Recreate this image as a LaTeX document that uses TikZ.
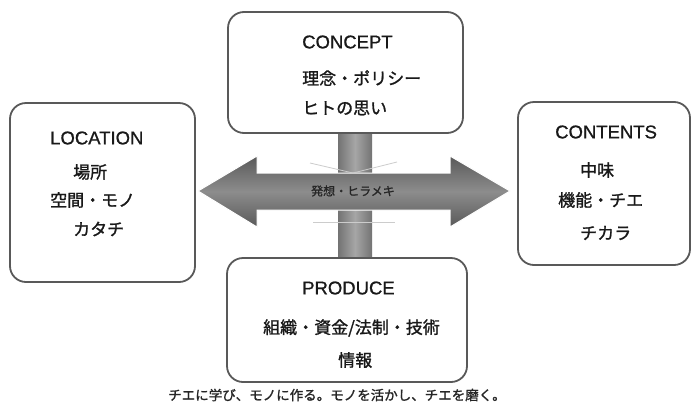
\documentclass[tikz,border=0pt]{standalone}
\usepackage{fontspec}
\setmainfont{Liberation Sans}
\newfontfamily\jp[FakeBold=1.2]{Noto Sans CJK JP}
\newfontfamily\lt[FakeBold=0.8]{Liberation Sans}
\begin{document}
\begin{tikzpicture}[x=1pt,y=-1pt,
 box/.style={draw=black!65, line width=1.8pt, rounded corners=16pt, fill=white},
 lat/.style={anchor=west, font=\lt\fontsize{18.5}{20}\selectfont, text=black!90, inner sep=0pt},
 jpt/.style={anchor=west, font=\jp\fontsize{17}{20}\selectfont, text=black!90, inner sep=0pt},
 bar/.style={left color=black!55, right color=black!55, middle color=black!35},
]
\useasboundingbox (0,0) rectangle (692,410);
\fill[white] (0,0) rectangle (692,410);
% vertical bars
\fill[bar] (338,128) rectangle (372,176);
\fill[bar] (338,208) rectangle (372,262);
% double arrow
\draw[white, line width=1pt, top color=black!65, bottom color=black!65, middle color=black!45]
 (198,191) -- (257,156) -- (257,173) -- (450,173) -- (450,156) -- (510,191)
 -- (450,227) -- (450,210) -- (257,210) -- (257,227) -- cycle;
\draw[black!20, line width=0.8pt] (310,163) -- (353,173) -- (397,162);
\draw[black!20, line width=0.8pt] (313,222) -- (395,222);
\node[font=\jp\fontsize{12}{14}\selectfont, text=black!85, inner sep=0pt] (center) at (353,191) {発想・ヒラメキ};
% boxes
\node[box, minimum width=235pt, minimum height=121pt] (concept) at (345.5,72.5) {};
\node[box, minimum width=185pt, minimum height=179pt] (location) at (102.5,192.5) {};
\node[box, minimum width=172pt, minimum height=163pt] (contents) at (604,183.5) {};
\node[box, minimum width=240pt, minimum height=124pt] (produce) at (347,320) {};
% texts
\node[lat] (t1) at (302,42) {CONCEPT};
\node[jpt] (t2) at (302,78) {理念・ポリシー};
\node[jpt] (t3) at (302,108) {ヒトの思い};
\node[lat] (l1) at (50,138) {LOCATION};
\node[jpt] (l2) at (73,172) {場所};
\node[jpt] (l3) at (50,200) {空間・モノ};
\node[jpt] (l4) at (73,229) {カタチ};
\node[lat] (c1) at (555,132) {CONTENTS};
\node[jpt] (c2) at (580,170) {中味};
\node[jpt] (c3) at (558,200) {機能・チエ};
\node[jpt] (c4) at (580,233) {チカラ};
\node[lat] (p1) at (302,288) {PRODUCE};
\node[jpt] (p2) at (263,328) {組織・資金/法制・技術};
\node[jpt] (p3) at (338,360) {情報};
\node[font=\jp\fontsize{13.5}{16}\selectfont, text=black!85, inner sep=0pt] (cap) at (337,395) {チエに学び、モノに作る。モノを活かし、チエを磨く。};
\end{tikzpicture}
\end{document}
